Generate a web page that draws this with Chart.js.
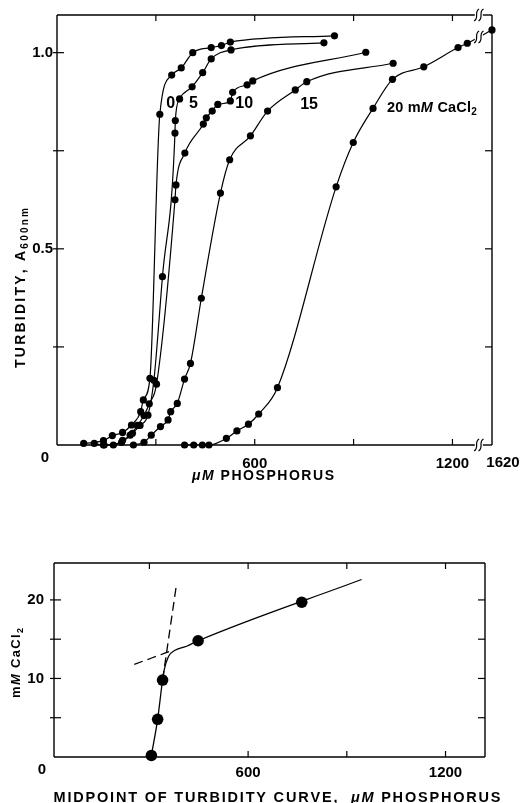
<!DOCTYPE html>
<html>
<head>
<meta charset="utf-8">
<script src="https://cdn.jsdelivr.net/npm/chart.js@4.4.0/dist/chart.umd.min.js"></script>
<style>
  body { margin: 0; background: #fff; }
  #wrap { position: relative; width: 526px; height: 803px; }
  canvas { position: absolute; left: 0; }
</style>
</head>
<body>
<div id="wrap">
  <canvas id="topChart" width="526" height="490" style="top:0"></canvas>
  <canvas id="botChart" width="526" height="313" style="top:490px"></canvas>
</div>
<script>
// turbidity (A600) vs uM phosphorus, one curve per CaCl2 level
const p0 = [81, 141, 168, 199, 226, 254, 262, 282, 312, 348, 377, 412, 468, 499, 526, 842];
const a0 = [0.004, 0.011, 0.024, 0.032, 0.051, 0.085, 0.115, 0.17, 0.843, 0.943, 0.961, 1.0, 1.013, 1.018, 1.027, 1.043];

const p5 = [113, 141, 196, 229, 252, 276, 294, 320, 358, 359, 372, 410, 442, 468, 528, 810];
const a5 = [0.004, 0.0, 0.007, 0.03, 0.05, 0.076, 0.165, 0.429, 0.795, 0.827, 0.882, 0.913, 0.949, 0.984, 1.007, 1.025];

const p10 = [143, 171, 199, 222, 244, 264, 280, 302, 358, 361, 388, 444, 453, 471, 488, 526, 533, 577, 594, 937];
const a10 = [0.0, 0.0, 0.012, 0.025, 0.05, 0.075, 0.105, 0.155, 0.625, 0.663, 0.744, 0.818, 0.834, 0.851, 0.868, 0.877, 0.899, 0.918, 0.928, 1.001];

const p15 = [232, 264, 286, 314, 337, 345, 365, 387, 405, 438, 496, 524, 587, 639, 723, 758, 1020];
const a15 = [0.0, 0.007, 0.025, 0.047, 0.064, 0.085, 0.106, 0.168, 0.208, 0.374, 0.642, 0.727, 0.788, 0.851, 0.905, 0.926, 0.973];

const p20 = [387, 415, 441, 461, 514, 546, 581, 612, 669, 847, 899, 959, 1018, 1113, 1217, 1245, 1620];
const a20 = [0.0, 0.0, 0.0, 0.0, 0.017, 0.036, 0.053, 0.079, 0.146, 0.658, 0.771, 0.858, 0.932, 0.964, 1.013, 1.024, 1.058];

// curve labels (CaCl2 mM) and where they sit
const curveLabels = ['0', '5', '10', '15'];
const labelX = [345, 414, 568, 765];
const labelY = [0.869, 0.869, 0.869, 0.867];

// lower panel: midpoint of turbidity curve vs CaCl2
const midX = [306, 325, 340, 448, 763];
const midY = [0.2, 4.8, 9.8, 14.8, 19.7];
const fitX = [306, 325, 340, 345, 358, 378, 413, 448, 945];
const fitY = [0.2, 4.8, 9.8, 11.1, 12.8, 13.6, 14.1, 14.8, 22.6];
const steepX = [340, 381];
const steepY = [9.8, 21.6];
const flatX = [254, 372];
const flatY = [11.8, 13.6];

// axis is broken between 1290 and 1590 uM
const BREAK = 1280;
function brk(v) { return v > 1300 ? v - 300 : v; }

const FAM = '"Liberation Sans", Arial, Helvetica, sans-serif';

function pts(xs, ys) { return xs.map((x, i) => ({ x: brk(x), y: ys[i] })); }

function curve(xs, ys) {
  return {
    data: pts(xs, ys),
    showLine: true,
    borderColor: '#000',
    borderWidth: 1.2,
    tension: 0.4,
    cubicInterpolationMode: 'monotone',
    pointRadius: 3.6,
    pointBackgroundColor: '#000',
    pointBorderWidth: 0,
    clip: false
  };
}

// draws mixed bold / italic / subscript text, spread to a given width
function rich(ctx, parts, cx, cy, opt) {
  const size = opt.size || 13;
  const fontOf = st => st === 'i' ? `italic bold ${size}px ${FAM}`
    : st === 's' ? `bold ${Math.round(size * 0.72)}px ${FAM}` : `bold ${size}px ${FAM}`;
  const chars = [];
  parts.forEach(([t, st]) => {
    ctx.font = fontOf(st);
    for (const c of t) chars.push({ c, st, w: ctx.measureText(c).width });
  });
  const nat = chars.reduce((s, o) => s + o.w, 0);
  const sp = opt.width ? (opt.width - nat) / (chars.length - 1) : 0;
  const total = nat + sp * (chars.length - 1);
  ctx.save();
  ctx.translate(cx, cy);
  if (opt.rot) ctx.rotate(-Math.PI / 2);
  ctx.fillStyle = '#000';
  ctx.textBaseline = 'middle';
  ctx.textAlign = 'left';
  let x = opt.align === 'left' ? 0 : -total / 2;
  chars.forEach(o => {
    ctx.font = fontOf(o.st);
    ctx.fillText(o.c, x, o.st === 's' ? size * 0.32 : 0);
    x += o.w + sp;
  });
  ctx.restore();
}

function drawBreak(ctx, px, py, clear) {
  ctx.save();
  if (clear) {
    ctx.fillStyle = '#fff';
    ctx.fillRect(px - 4, py - 5, 8, 10);
  }
  ctx.strokeStyle = '#000';
  ctx.lineWidth = 1.2;
  [-2.2, 2.2].forEach(dx => {
    const c = px + dx;
    ctx.beginPath();
    ctx.moveTo(c - 2.5, py + 6);
    ctx.bezierCurveTo(c + 3, py + 3, c - 3, py - 3, c + 2.5, py - 6);
    ctx.stroke();
  });
  ctx.restore();
}

function seg(ctx, x1, y1, x2, y2) {
  ctx.beginPath(); ctx.moveTo(x1, y1); ctx.lineTo(x2, y2); ctx.stroke();
}

// box + inward tick marks, drawn under the data
function framePlugin(xTicks, yTicks, breakAt) {
  return {
    id: 'frame',
    beforeDatasetsDraw(chart) {
      const { ctx, chartArea: a, scales: { x, y } } = chart;
      ctx.save();
      ctx.strokeStyle = '#000';
      ctx.lineWidth = 1.4;
      seg(ctx, a.left, a.top, a.left, a.bottom);
      seg(ctx, a.right, a.top, a.right, a.bottom);
      if (breakAt) {
        const bx = x.getPixelForValue(breakAt);
        seg(ctx, a.left, a.top, bx - 4, a.top);
        seg(ctx, bx + 4, a.top, a.right, a.top);
        seg(ctx, a.left, a.bottom, bx - 4, a.bottom);
        seg(ctx, bx + 4, a.bottom, a.right, a.bottom);
      } else {
        seg(ctx, a.left, a.top, a.right, a.top);
        seg(ctx, a.left, a.bottom, a.right, a.bottom);
      }
      ctx.lineWidth = 1.2;
      xTicks.forEach(v => {
        const px = x.getPixelForValue(v);
        seg(ctx, px, a.bottom, px, a.bottom - 6);
        seg(ctx, px, a.top, px, a.top + 6);
      });
      yTicks.forEach(v => {
        const py = y.getPixelForValue(v);
        seg(ctx, a.left - 4, py, a.left + 7, py);
        seg(ctx, a.right, py, a.right - 7, py);
      });
      ctx.restore();
    }
  };
}

const tickFont = { family: FAM, size: 15, weight: 'bold' };

const topChart = new Chart(document.getElementById('topChart'), {
  type: 'scatter',
  data: {
    datasets: [curve(p0, a0), curve(p5, a5), curve(p10, a10), curve(p15, a15), curve(p20, a20)]
  },
  options: {
    responsive: false,
    animation: false,
    layout: { padding: { top: 15, right: 34, left: 0, bottom: 0 } },
    plugins: { legend: { display: false }, tooltip: { enabled: false } },
    scales: {
      x: {
        type: 'linear', min: 0, max: 1320,
        grid: { display: false, drawTicks: false }, border: { display: false },
        ticks: {
          stepSize: 300, includeBounds: false, autoSkip: false, maxRotation: 0, padding: 10, color: '#000', font: tickFont,
          callback: v => (v === 600 || v === 1200) ? String(v) : ''
        },
        afterFit: s => { s.height = 45; }
      },
      y: {
        type: 'linear', min: 0, max: 1.096,
        grid: { display: false, drawTicks: false }, border: { display: false },
        ticks: {
          stepSize: 0.25, includeBounds: false, padding: 4, color: '#000', font: tickFont,
          callback: v => v === 1 ? '1.0' : v === 0.5 ? '0.5' : ''
        },
        afterFit: s => { s.width = 57; }
      }
    }
  },
  plugins: [
    framePlugin([300, 600, 900, 1200], [0.25, 0.5, 0.75, 1.0], BREAK),
    {
      id: 'annot',
      afterDraw(chart) {
        const { ctx, chartArea: a, scales: { x, y } } = chart;
        // break marks on the 20 mM line and both axes
        const i = p20.length - 2;
        const t = (BREAK - p20[i]) / (brk(p20[i + 1]) - p20[i]);
        drawBreak(ctx, x.getPixelForValue(BREAK), y.getPixelForValue(a20[i] + t * (a20[i + 1] - a20[i])), true);
        drawBreak(ctx, x.getPixelForValue(BREAK), a.top, false);
        drawBreak(ctx, x.getPixelForValue(BREAK), a.bottom, false);

        ctx.save();
        ctx.fillStyle = '#000';
        ctx.font = `bold 16px ${FAM}`;
        ctx.textAlign = 'center';
        ctx.textBaseline = 'middle';
        curveLabels.forEach((l, k) => ctx.fillText(l, x.getPixelForValue(labelX[k]), y.getPixelForValue(labelY[k])));
        ctx.font = `bold 15px ${FAM}`;
        ctx.fillText('0', a.left - 12, a.bottom + 13);
        ctx.fillText('1620', a.right + 11, a.bottom + 18);
        ctx.restore();
        rich(ctx, [['20 m', 'b'], ['M', 'i'], [' CaCl', 'b'], ['2', 's']],
          x.getPixelForValue(1001), y.getPixelForValue(0.859), { size: 14.5, width: 90, align: 'left' });
        rich(ctx, [['TURBIDITY, A', 'b'], ['600nm', 's']], 21, 288, { rot: true, size: 14, width: 160 });
        rich(ctx, [['\u03bcM ', 'i'], ['PHOSPHORUS', 'b']], 263, 476, { size: 14, width: 142 });
      }
    }
  ]
});

function lineSet(xs, ys, dash) {
  return {
    data: xs.map((x, i) => ({ x, y: ys[i] })),
    showLine: true,
    borderColor: '#000',
    borderWidth: 1.3,
    borderDash: dash,
    tension: 0.4,
    cubicInterpolationMode: 'monotone',
    pointRadius: 0,
    clip: false
  };
}

const botChart = new Chart(document.getElementById('botChart'), {
  type: 'scatter',
  data: {
    datasets: [
      lineSet(fitX, fitY, []),
      lineSet(steepX, steepY, [9, 5]),
      lineSet(flatX, flatY, [9, 5]),
      {
        data: midX.map((x, i) => ({ x, y: midY[i] })),
        pointRadius: 5.8,
        pointBackgroundColor: '#000',
        pointBorderWidth: 0,
        clip: false
      }
    ]
  },
  options: {
    responsive: false,
    animation: false,
    layout: { padding: { top: 73, right: 41, left: 0, bottom: 0 } },
    plugins: { legend: { display: false }, tooltip: { enabled: false } },
    scales: {
      x: {
        type: 'linear', min: 10, max: 1320,
        grid: { display: false, drawTicks: false }, border: { display: false },
        ticks: {
          stepSize: 300, includeBounds: false, autoSkip: false, maxRotation: 0, padding: 7, color: '#000', font: tickFont,
          callback: v => (v === 600 || v === 1200) ? String(v) : ''
        },
        afterFit: s => { s.height = 46; }
      },
      y: {
        type: 'linear', min: 0, max: 24.7,
        grid: { display: false, drawTicks: false }, border: { display: false },
        ticks: {
          stepSize: 5, includeBounds: false, padding: 10, color: '#000', font: tickFont,
          callback: v => (v === 10 || v === 20) ? String(v) : ''
        },
        afterFit: s => { s.width = 54; }
      }
    }
  },
  plugins: [
    framePlugin([300, 600, 900, 1200], [5, 10, 15, 20], null),
    {
      id: 'annot2',
      afterDraw(chart) {
        const { ctx, chartArea: a } = chart;
        ctx.save();
        ctx.fillStyle = '#000';
        ctx.font = `bold 15px ${FAM}`;
        ctx.textAlign = 'center';
        ctx.textBaseline = 'middle';
        ctx.fillText('0', a.left - 12, a.bottom + 13);
        ctx.restore();
        rich(ctx, [['m', 'b'], ['M', 'i'], [' CaCl', 'b'], ['2', 's']], 16, 173, { rot: true, size: 13, width: 70 });
        rich(ctx, [['MIDPOINT OF TURBIDITY CURVE,  ', 'b'], ['\u03bcM', 'i'], [' PHOSPHORUS', 'b']], 277, 308, { size: 14.5, width: 447 });
      }
    }
  ]
});
</script>
</body>
</html>
